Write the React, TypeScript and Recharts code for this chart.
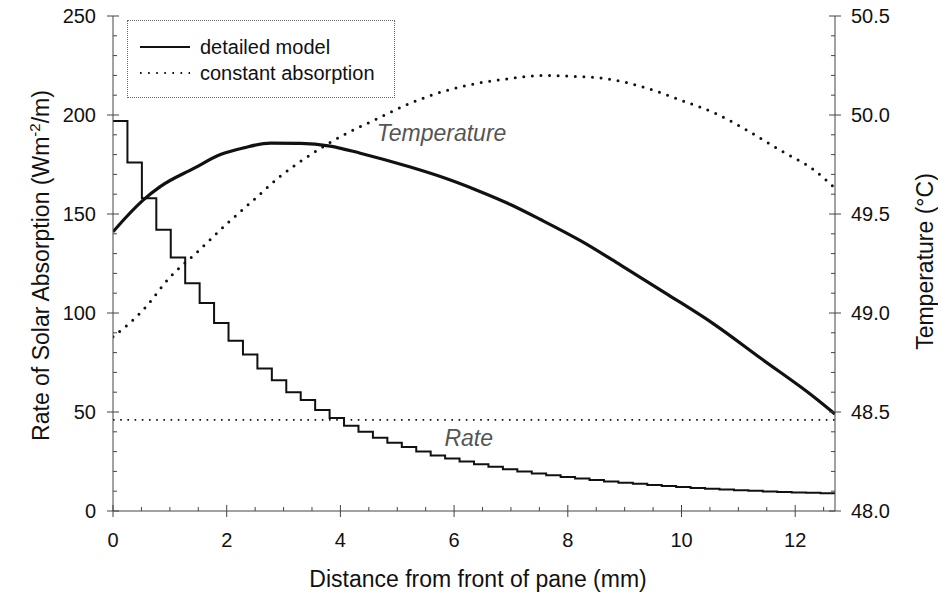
import React from "react";
import { ComposedChart, Line, XAxis, YAxis, Legend, ReferenceDot } from "recharts";

const FONT = "'Liberation Sans', Arial, Helvetica, sans-serif";
const INK = "#111";
const AXIS = "#444";

// pane split into 50 equal layers, 12.7 mm thick
const PANE_MM = 12.7;
const LAYER_COUNT = 50;

// absorption rate per layer, front to back (W m^-2 / m)
const rateDetailed = [
	197, 176, 158, 142, 128, 115, 105, 95, 86, 79, 72, 66, 60, 56, 51, 47, 43, 40,
	37, 34.5, 32.3, 30, 28, 26.5, 25, 23.6, 22.3, 21.1, 20, 19, 18.1, 17.2, 16.4,
	15.6, 14.9, 14.3, 13.7, 13.1, 12.6, 12.1, 11.6, 11.2, 10.8, 10.5, 10.2, 9.9,
	9.6, 9.4, 9.2, 9.0,
];
const rateConstant = 46;

// temperature profiles (°C)
const tempDetailedX = [
	0, 0.25, 0.53, 0.83, 1.42, 1.89, 2.3, 2.77, 3.3, 3.82, 4.35, 5.23, 5.81, 6.41,
	6.99, 7.52, 8.23, 8.93, 9.76, 10.57, 11.4, 12.33, 12.7,
];
const tempDetailed = [
	49.41, 49.49, 49.57, 49.638, 49.73, 49.8, 49.834, 49.858, 49.857, 49.843,
	49.807, 49.737, 49.684, 49.619, 49.548, 49.472, 49.364, 49.242, 49.093, 48.944,
	48.77, 48.576, 48.49,
];
const tempConstantX = [
	0, 0.53, 1.0, 1.47, 2.0, 2.47, 2.94, 3.53, 4.06, 4.64, 5.23, 5.82, 6.41, 7.0,
	7.58, 8.1, 8.64, 9.4, 9.99, 10.58, 11.17, 11.75, 12.34, 12.7,
];
const tempConstant = [
	48.88, 49.015, 49.18, 49.305, 49.45, 49.57, 49.69, 49.81, 49.9, 49.98, 50.06,
	50.12, 50.16, 50.185, 50.2, 50.195, 50.185, 50.135, 50.075, 50.01, 49.92,
	49.82, 49.72, 49.63,
];

// tick labels
const xMajor = [0, 2, 4, 6, 8, 10, 12];
const rateMajor = [0, 50, 100, 150, 200, 250];
const tempMajor = [48.0, 48.5, 49.0, 49.5, 50.0, 50.5];

const legendOrder = ["detailed model", "constant absorption"];

const steps = (lo: number, hi: number, step: number) => {
	const out: number[] = [];
	for (let v = lo; v <= hi + 1e-9; v += step) out.push(Math.round(v * 100) / 100);
	return out;
};
const xTicks = steps(0, 12.5, 0.5);
const rateTicks = steps(0, 250, 10);
const tempTicks = steps(48, 50.5, 0.1);

const layerWidth = PANE_MM / LAYER_COUNT;
const stepData = [
	...rateDetailed.map((rate, i) => ({ x: i * layerWidth, rate })),
	{ x: PANE_MM, rate: rateDetailed[rateDetailed.length - 1] },
];
const constRateData = [
	{ x: 0, rate: rateConstant },
	{ x: PANE_MM, rate: rateConstant },
];
const tempDetailedData = tempDetailedX.map((x, i) => ({ x, temp: tempDetailed[i] }));
const tempConstantData = tempConstantX.map((x, i) => ({ x, temp: tempConstant[i] }));

const isMajor = (v: number, list: number[]) => list.some((m) => Math.abs(m - v) < 1e-6);

const XTick = ({ x, y, payload }: any) => {
	const major = isMajor(payload.value, xMajor);
	return (
		<g>
			<line x1={x} x2={x} y1={y - (major ? 6 : 4)} y2={y + (major ? 6 : 0)} stroke={AXIS} />
			{major && (
				<text x={x} y={y + 36} textAnchor="middle" fontSize={20} fontFamily={FONT} fill={INK}>
					{payload.value}
				</text>
			)}
		</g>
	);
};

const RateTick = ({ x, y, payload }: any) => {
	const major = isMajor(payload.value, rateMajor);
	return (
		<g>
			<line x1={x - (major ? 6 : 0)} x2={x + (major ? 6 : 4)} y1={y} y2={y} stroke={AXIS} />
			{major && (
				<text x={x - 17} y={y + 7} textAnchor="end" fontSize={20} fontFamily={FONT} fill={INK}>
					{payload.value}
				</text>
			)}
		</g>
	);
};

const TempTick = ({ x, y, payload }: any) => {
	const major = isMajor(payload.value, tempMajor);
	return (
		<g>
			<line x1={x - (major ? 6 : 4)} x2={x + (major ? 6 : 0)} y1={y} y2={y} stroke={AXIS} />
			{major && (
				<text x={x + 16} y={y + 7} textAnchor="start" fontSize={20} fontFamily={FONT} fill={INK}>
					{payload.value.toFixed(1)}
				</text>
			)}
		</g>
	);
};

const legendDash: Record<string, string | undefined> = {
	"detailed model": undefined,
	"constant absorption": "1.6 6.5",
};

const LegendBox = ({ payload }: any) => {
	// temperature curves share the same styles, so only the rate series are listed
	const items = (payload || [])
		.filter((e: any) => e.type !== "none" && legendOrder.includes(e.value))
		.sort((a: any, b: any) => legendOrder.indexOf(a.value) - legendOrder.indexOf(b.value));
	return (
		<div
			style={{
				position: "relative",
				width: 268,
				height: 78,
				border: "1px dotted #666",
				boxSizing: "border-box",
				fontFamily: FONT,
				fontSize: 20,
				color: INK,
			}}
		>
			{items.map((entry: any, i: number) => (
				<div
					key={entry.value}
					style={{
						position: "absolute",
						left: 12,
						top: 14 + i * 26,
						height: 24,
						display: "flex",
						alignItems: "center",
						whiteSpace: "nowrap",
					}}
				>
					<svg width={50} height={4} style={{ display: "block" }}>
						<line
							x1={0}
							x2={50}
							y1={2}
							y2={2}
							stroke={INK}
							strokeWidth={legendDash[entry.value] ? 1.8 : 2}
							strokeDasharray={legendDash[entry.value]}
						/>
					</svg>
					<span style={{ marginLeft: 10, lineHeight: "24px" }}>{entry.value}</span>
				</div>
			))}
		</div>
	);
};

const App = () => {
	return (
		<div style={{ position: "absolute", left: 0, top: 0, background: "#fff" }}>
			<ComposedChart width={938} height={598} margin={{ top: 16, right: 0, bottom: 0, left: 0 }}>
				<XAxis
					dataKey="x"
					type="number"
					domain={[0, PANE_MM]}
					ticks={xTicks}
					interval={0}
					height={87}
					tickLine={false}
					tickSize={0}
					tickMargin={0}
					tick={<XTick />}
					stroke={AXIS}
					allowDataOverflow
					label={(p: any) => (
						<text
							x={p.viewBox.x + p.viewBox.width / 2 + 4}
							y={p.viewBox.y + 76}
							textAnchor="middle"
							fontSize={23}
							fontFamily={FONT}
							fill={INK}
						>
							Distance from front of pane (mm)
						</text>
					)}
				/>
				<YAxis
					yAxisId="rate"
					type="number"
					domain={[0, 250]}
					ticks={rateTicks}
					interval={0}
					width={113}
					tickLine={false}
					tickSize={0}
					tickMargin={0}
					tick={<RateTick />}
					stroke={AXIS}
					allowDataOverflow
					label={(p: any) => {
						const cx = 49;
						const cy = p.viewBox.y + p.viewBox.height / 2 + 2;
						return (
							<text
								x={cx}
								y={cy}
								transform={`rotate(-90, ${cx}, ${cy})`}
								textAnchor="middle"
								fontSize={23}
								fontFamily={FONT}
								fill={INK}
							>
								Rate of Solar Absorption (Wm
								<tspan dy={-9} fontSize={15}>
									-2
								</tspan>
								<tspan dy={9}>/m)</tspan>
							</text>
						);
					}}
				/>
				<YAxis
					yAxisId="temp"
					orientation="right"
					type="number"
					domain={[48, 50.5]}
					ticks={tempTicks}
					interval={0}
					width={103}
					tickLine={false}
					tickSize={0}
					tickMargin={0}
					tick={<TempTick />}
					stroke={AXIS}
					allowDataOverflow
					label={(p: any) => {
						const cx = 933;
						const cy = p.viewBox.y + p.viewBox.height / 2 - 2;
						return (
							<text
								x={cx}
								y={cy}
								transform={`rotate(-90, ${cx}, ${cy})`}
								textAnchor="middle"
								fontSize={23}
								fontFamily={FONT}
								fill={INK}
							>
								Temperature (°C)
							</text>
						);
					}}
				/>
				<Legend
					layout="vertical"
					align="center"
					verticalAlign="middle"
					content={<LegendBox />}
					wrapperStyle={{ left: 127, top: 20, width: 268, height: 78 }}
				/>
				<Line
					yAxisId="rate"
					data={stepData}
					dataKey="rate"
					name="detailed model"
					type="stepAfter"
					stroke={INK}
					strokeWidth={2}
					dot={false}
					activeDot={false}
					isAnimationActive={false}
				/>
				<Line
					yAxisId="rate"
					data={constRateData}
					dataKey="rate"
					name="constant absorption"
					type="linear"
					stroke={INK}
					strokeWidth={1.6}
					strokeDasharray="1.6 5.6"
					dot={false}
					activeDot={false}
					isAnimationActive={false}
				/>
				<Line
					yAxisId="temp"
					data={tempDetailedData}
					dataKey="temp"
					name="temperature, detailed"
					legendType="none"
					type="monotone"
					stroke={INK}
					strokeWidth={3.2}
					dot={false}
					activeDot={false}
					isAnimationActive={false}
				/>
				<Line
					yAxisId="temp"
					data={tempConstantData}
					dataKey="temp"
					name="temperature, constant"
					legendType="none"
					type="monotone"
					stroke={INK}
					strokeWidth={3}
					strokeLinecap="round"
					strokeDasharray="0 8.6"
					dot={false}
					activeDot={false}
					isAnimationActive={false}
				/>
				<ReferenceDot
					yAxisId="rate"
					x={4.64}
					y={187}
					r={0}
					shape={(p: any) => (
						<text x={p.cx} y={p.cy} fontSize={23} fontStyle="italic" fontFamily={FONT} fill="#555">
							Temperature
						</text>
					)}
				/>
				<ReferenceDot
					yAxisId="rate"
					x={5.83}
					y={33}
					r={0}
					shape={(p: any) => (
						<text x={p.cx} y={p.cy} fontSize={23} fontStyle="italic" fontFamily={FONT} fill="#555">
							Rate
						</text>
					)}
				/>
			</ComposedChart>
		</div>
	);
};

export default App;
